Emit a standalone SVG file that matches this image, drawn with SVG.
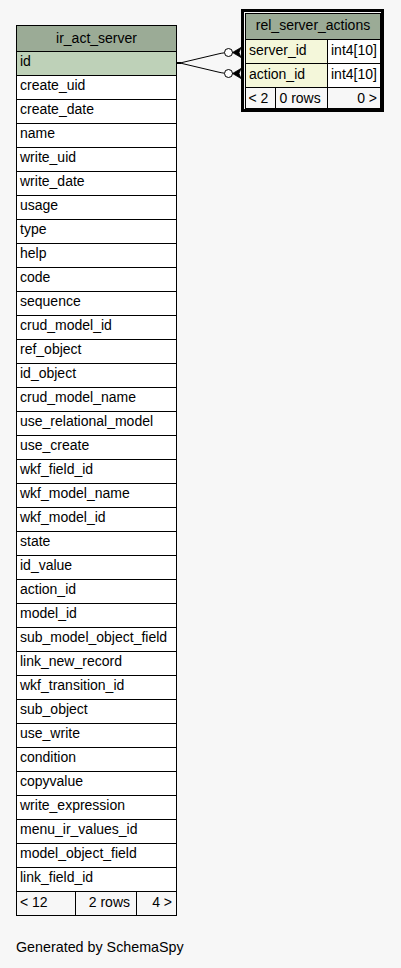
<svg xmlns="http://www.w3.org/2000/svg" width="401" height="968" viewBox="0 0 401 968">
<style>
text{font-family:"Liberation Sans",Arial,sans-serif;font-size:14px;fill:#000}
.c{fill:#fff;stroke:#000;stroke-width:1}
.h{fill:#9bab96;stroke:#000;stroke-width:1}
.pk{fill:#bed1b8;stroke:#000;stroke-width:1}
.fk{fill:#f4f7da;stroke:#000;stroke-width:1}
.ft{fill:#f7f7f7;stroke:#000;stroke-width:1}
.m{text-anchor:middle}
.e{text-anchor:end}
.ln{fill:none;stroke:#000;stroke-width:1}
</style>
<rect width="401" height="968" fill="#f7f7f7"/>
<g id="connectors">
<line x1="176.5" y1="63" x2="181" y2="63" stroke="#000" stroke-width="2"/>
<path class="ln" d="M180,63 L218,54 Q221,53.2 224.5,52.8"/>
<path class="ln" d="M180,63 L218,72 Q221,72.8 224.5,73.2"/>
<circle cx="228.5" cy="52.5" r="4" fill="#fff" stroke="#000"/>
<circle cx="228.5" cy="73.5" r="4" fill="#fff" stroke="#000"/>
<path d="M232.5,52.5 L241,47.5 L239,52.5 L241,57.5 Z" fill="#000" stroke="#000" stroke-width="0.8"/>
<path d="M232.5,73.5 L241,68.5 L239,73.5 L241,78.5 Z" fill="#000" stroke="#000" stroke-width="0.8"/>
</g>
<g id="ir_act_server">
<rect class="h" x="16.5" y="25.5" width="160" height="26"/>
<text class="m" x="96.5" y="43">ir_act_server</text>
<rect class="pk" x="16.5" y="51.5" width="160" height="24"/>
<text x="20" y="66">id</text>
<rect class="c" x="16.5" y="75.5" width="160" height="24"/><text x="20" y="90">create_uid</text>
<rect class="c" x="16.5" y="99.5" width="160" height="24"/><text x="20" y="114">create_date</text>
<rect class="c" x="16.5" y="123.5" width="160" height="24"/><text x="20" y="138">name</text>
<rect class="c" x="16.5" y="147.5" width="160" height="24"/><text x="20" y="162">write_uid</text>
<rect class="c" x="16.5" y="171.5" width="160" height="24"/><text x="20" y="186">write_date</text>
<rect class="c" x="16.5" y="195.5" width="160" height="24"/><text x="20" y="210">usage</text>
<rect class="c" x="16.5" y="219.5" width="160" height="24"/><text x="20" y="234">type</text>
<rect class="c" x="16.5" y="243.5" width="160" height="24"/><text x="20" y="258">help</text>
<rect class="c" x="16.5" y="267.5" width="160" height="24"/><text x="20" y="282">code</text>
<rect class="c" x="16.5" y="291.5" width="160" height="24"/><text x="20" y="306">sequence</text>
<rect class="c" x="16.5" y="315.5" width="160" height="24"/><text x="20" y="330">crud_model_id</text>
<rect class="c" x="16.5" y="339.5" width="160" height="24"/><text x="20" y="354">ref_object</text>
<rect class="c" x="16.5" y="363.5" width="160" height="24"/><text x="20" y="378">id_object</text>
<rect class="c" x="16.5" y="387.5" width="160" height="24"/><text x="20" y="402">crud_model_name</text>
<rect class="c" x="16.5" y="411.5" width="160" height="24"/><text x="20" y="426">use_relational_model</text>
<rect class="c" x="16.5" y="435.5" width="160" height="24"/><text x="20" y="450">use_create</text>
<rect class="c" x="16.5" y="459.5" width="160" height="24"/><text x="20" y="474">wkf_field_id</text>
<rect class="c" x="16.5" y="483.5" width="160" height="24"/><text x="20" y="498">wkf_model_name</text>
<rect class="c" x="16.5" y="507.5" width="160" height="24"/><text x="20" y="522">wkf_model_id</text>
<rect class="c" x="16.5" y="531.5" width="160" height="24"/><text x="20" y="546">state</text>
<rect class="c" x="16.5" y="555.5" width="160" height="24"/><text x="20" y="570">id_value</text>
<rect class="c" x="16.5" y="579.5" width="160" height="24"/><text x="20" y="594">action_id</text>
<rect class="c" x="16.5" y="603.5" width="160" height="24"/><text x="20" y="618">model_id</text>
<rect class="c" x="16.5" y="627.5" width="160" height="24"/><text x="20" y="642">sub_model_object_field</text>
<rect class="c" x="16.5" y="651.5" width="160" height="24"/><text x="20" y="666">link_new_record</text>
<rect class="c" x="16.5" y="675.5" width="160" height="24"/><text x="20" y="690">wkf_transition_id</text>
<rect class="c" x="16.5" y="699.5" width="160" height="24"/><text x="20" y="714">sub_object</text>
<rect class="c" x="16.5" y="723.5" width="160" height="24"/><text x="20" y="738">use_write</text>
<rect class="c" x="16.5" y="747.5" width="160" height="24"/><text x="20" y="762">condition</text>
<rect class="c" x="16.5" y="771.5" width="160" height="24"/><text x="20" y="786">copyvalue</text>
<rect class="c" x="16.5" y="795.5" width="160" height="24"/><text x="20" y="810">write_expression</text>
<rect class="c" x="16.5" y="819.5" width="160" height="24"/><text x="20" y="834">menu_ir_values_id</text>
<rect class="c" x="16.5" y="843.5" width="160" height="24"/><text x="20" y="858">model_object_field</text>
<rect class="c" x="16.5" y="867.5" width="160" height="24"/><text x="20" y="882">link_field_id</text>
<rect class="ft" x="16.5" y="891.5" width="59" height="24"/>
<rect class="ft" x="75.5" y="891.5" width="61" height="24"/>
<rect class="ft" x="136.5" y="891.5" width="40" height="24"/>
<text x="20" y="907">&lt; 12</text>
<text class="e" x="130" y="907">2 rows</text>
<text class="e" x="172" y="907">4 &gt;</text>
</g>
<g id="rel_server_actions">
<rect x="242.5" y="10.5" width="140" height="100" fill="none" stroke="#000" stroke-width="3"/>
<rect class="h" x="245.5" y="13.5" width="135" height="26"/>
<text class="m" x="313" y="30">rel_server_actions</text>
<rect class="fk" x="245.5" y="39.5" width="82" height="24"/>
<rect class="c" x="327.5" y="39.5" width="53" height="24"/>
<text x="249" y="55">server_id</text>
<text x="331" y="55">int4[10]</text>
<rect class="fk" x="245.5" y="63.5" width="82" height="24"/>
<rect class="c" x="327.5" y="63.5" width="53" height="24"/>
<text x="249" y="79">action_id</text>
<text x="331" y="79">int4[10]</text>
<rect class="ft" x="245.5" y="87.5" width="30" height="21"/>
<rect class="ft" x="275.5" y="87.5" width="52" height="21"/>
<rect class="ft" x="327.5" y="87.5" width="53" height="21"/>
<text x="248.5" y="103">&lt; 2</text>
<text x="279.5" y="103">0 rows</text>
<text class="e" x="377" y="103">0 &gt;</text>
</g>
<text x="16" y="952" style="font-size:14.3px">Generated by SchemaSpy</text>
</svg>
